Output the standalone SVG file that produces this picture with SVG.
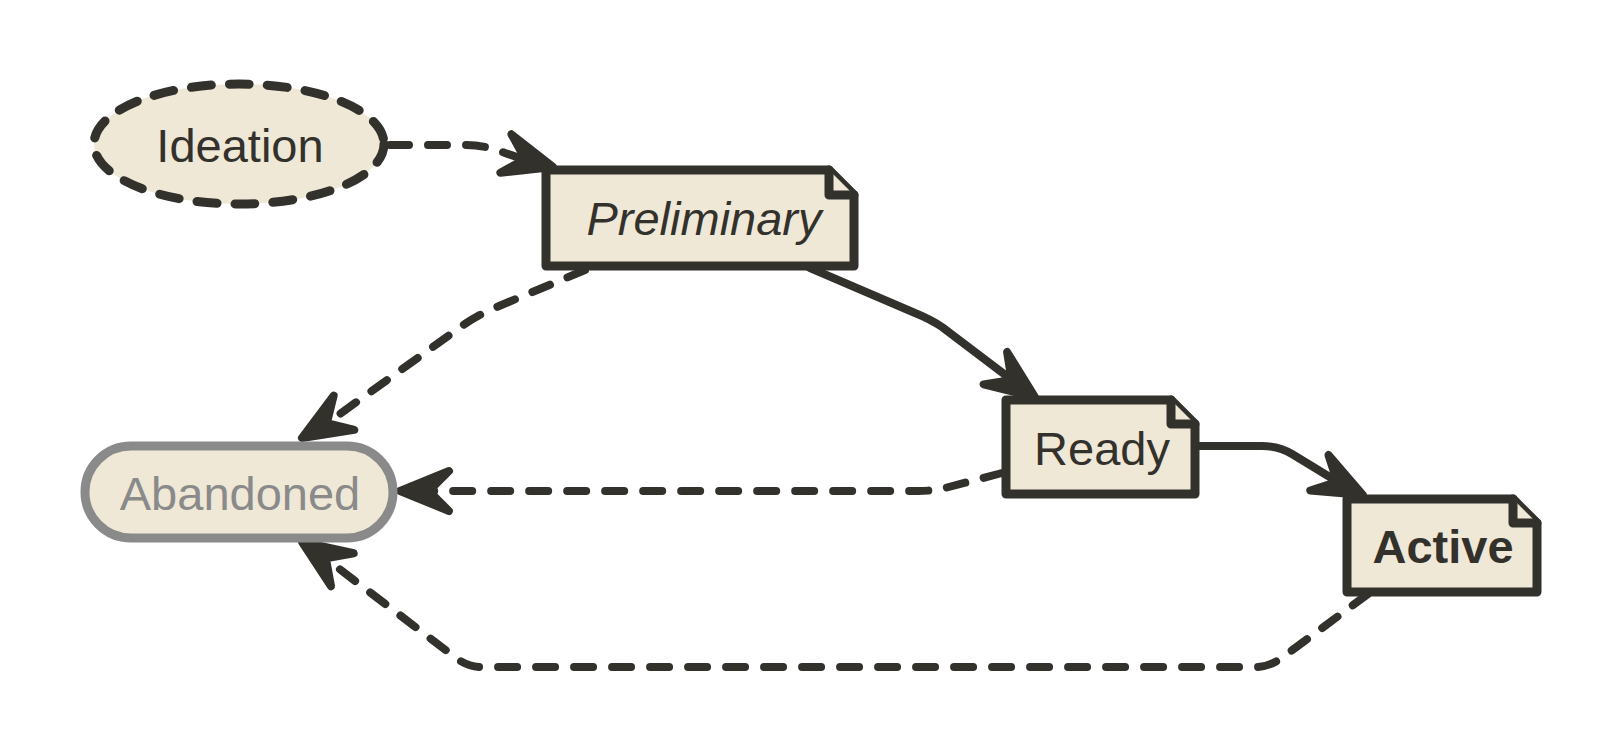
<svg xmlns="http://www.w3.org/2000/svg" width="1623" height="750" viewBox="0 0 1623 750">
<defs>
<style>
.node{fill:#efe8d6;stroke:#33312c;stroke-width:9;stroke-linejoin:round;stroke-linecap:round}
.lbl{font-family:"Liberation Sans",Arial,Helvetica,sans-serif;font-size:47px;fill:#33312c;text-anchor:middle}
.edge{fill:none;stroke:#33312c;stroke-width:8;stroke-linecap:round;stroke-linejoin:round}
.dash{stroke-dasharray:19 19}
.head{fill:#33312c;stroke:#33312c;stroke-width:8;stroke-linejoin:round;stroke-linecap:round}
</style>
<path id="ah" d="M0,0 L-49,-20 L-29,0 L-49,20 Z"/>
</defs>
<rect width="1623" height="750" fill="#ffffff"/>
<g id="connectors">
<path class="edge dash" d="M390,145 H465 C480,145 492,148 505,153 L526,160"/>
<use href="#ah" class="head" transform="translate(553,167) rotate(16)"/>
<path class="edge" d="M810,268 L915,313 Q930,319 942,327 L1012,380"/>
<use href="#ah" class="head" transform="translate(1035,397) rotate(36)"/>
<path class="edge" d="M1199,446 H1262 Q1279,446 1292,454 L1338,482"/>
<use href="#ah" class="head" transform="translate(1363,495) rotate(27)"/>
<path class="edge dash" d="M585,270 L492,309 Q472,318 455,331 L326,424"/>
<use href="#ah" class="head" transform="translate(302,438) rotate(149)"/>
<path class="edge dash" d="M1002,473 L945,488 Q933,491 918,491 H428"/>
<use href="#ah" class="head" transform="translate(400,491) rotate(180)"/>
<path class="edge dash" d="M1368,594 L1283,657 Q1270,667 1255,667 H482 Q468,667 456,658 L325,558"/>
<use href="#ah" class="head" transform="translate(302,542) rotate(214.5)"/>
</g>
<g id="ideation">
<ellipse class="node" cx="239" cy="144" rx="145" ry="60" stroke-dasharray="20 18"/>
<text class="lbl" x="240" y="162">Ideation</text>
</g>
<g id="preliminary">
<path class="node" d="M546,170 H829 L854,195 V266 H546 Z"/>
<path class="node" d="M829,170 V195 H854"/>
<text class="lbl" x="704" y="235" font-style="italic">Preliminary</text>
</g>
<g id="ready">
<path class="node" d="M1006,400 H1171 L1195,424 V494 H1006 Z"/>
<path class="node" d="M1171,400 V424 H1195"/>
<text class="lbl" x="1102" y="465">Ready</text>
</g>
<g id="active">
<path class="node" d="M1347,499 H1513 L1537,523 V592 H1347 Z"/>
<path class="node" d="M1513,499 V523 H1537"/>
<text class="lbl" x="1443" y="563" font-weight="bold">Active</text>
</g>
<g id="abandoned">
<rect class="node" x="85" y="446" width="308" height="92" rx="46" ry="46" style="stroke:#8a8a8a"/>
<text class="lbl" x="240" y="510" style="fill:#8a8a8a">Abandoned</text>
</g>
</svg>
